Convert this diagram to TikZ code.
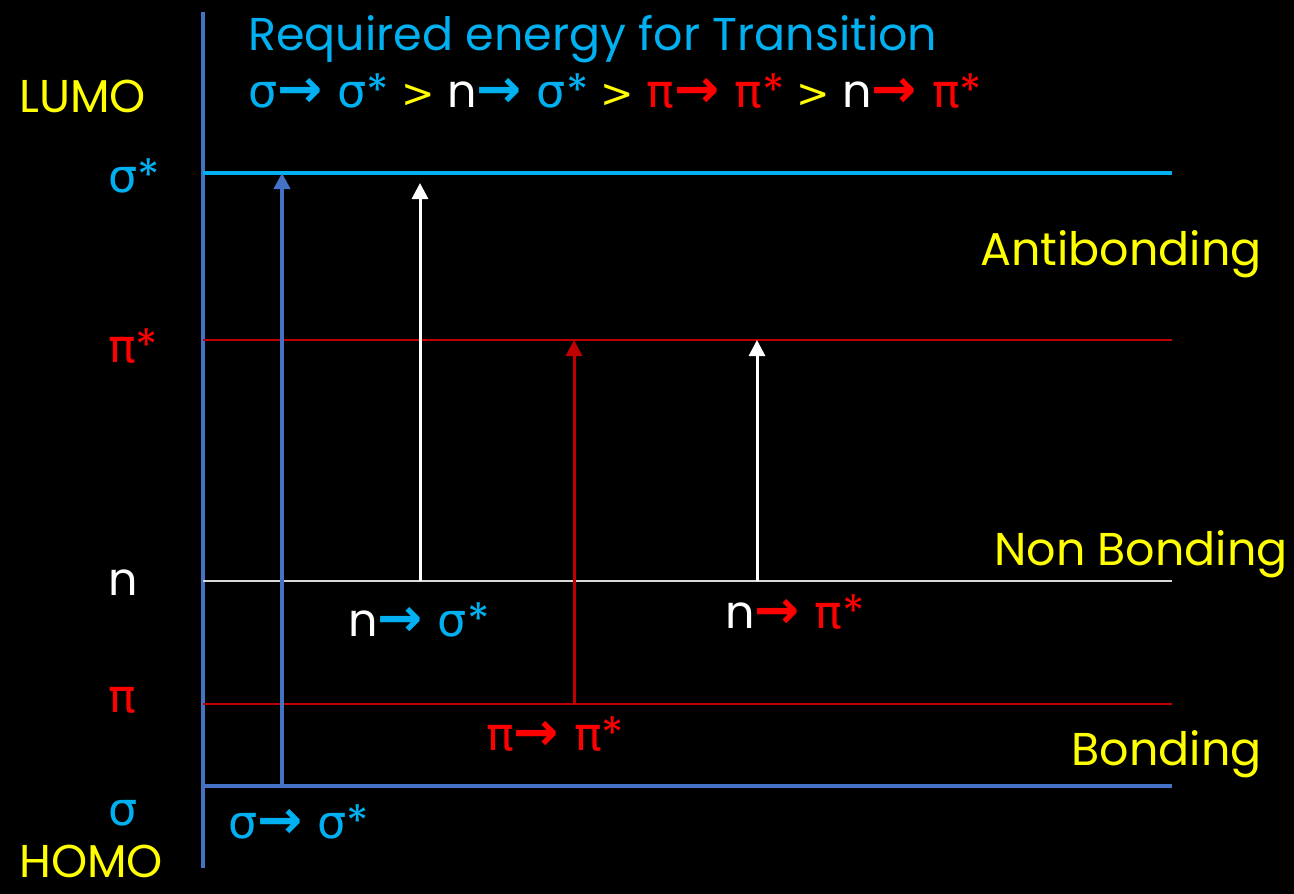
\documentclass[tikz,border=0pt]{standalone}
\usepackage{fontspec}
\setmainfont{Poppins}
\newfontfamily\grk{DejaVu Sans}
\usetikzlibrary{arrows.meta}
\definecolor{lb}{HTML}{00B0F0}
\definecolor{ax}{HTML}{4472C4}
\definecolor{dr}{HTML}{C00000}
\definecolor{rd}{HTML}{FF0000}
\definecolor{yl}{HTML}{FFFF00}
\newcommand\mysig{{\grk σ}}
\newcommand\mypi{{\grk π}}
\newcommand\myarr{{\grk\bfseries\fontsize{54}{54}\selectfont →}\hspace{15pt}}
\newcommand\mygt{{\grk\fontsize{40}{40}\selectfont >}}
\begin{document}
\begin{tikzpicture}[x=1pt,y=-1pt,
  txt/.style={inner sep=0pt,font=\fontsize{46}{50}\selectfont},
  lvl/.style={line width=#1},
  up/.style={line width=#1,-{Triangle[length=16pt,width=16pt]}}]
\fill[black] (0,0) rectangle (1294,894);
\useasboundingbox (0,0) rectangle (1294,894);
% axis
\coordinate (axT) at (203,12);
\coordinate (axB) at (203,868);
\draw[ax,line width=3.5pt] (axT) -- (axB);
% levels
\coordinate (ssL) at (203,173); \coordinate (ssR) at (1172,173);
\coordinate (psL) at (203,340); \coordinate (psR) at (1172,340);
\coordinate (nL) at (203,581);  \coordinate (nR) at (1172,581);
\coordinate (pL) at (203,704);  \coordinate (pR) at (1172,704);
\coordinate (sL) at (203,786);  \coordinate (sR) at (1172,786);
\draw[lb,lvl=4pt] (ssL) -- (ssR);
\draw[dr,lvl=2pt] (psL) -- (psR);
\draw[white!85!black,lvl=2pt] (nL) -- (nR);
\draw[dr,lvl=2pt] (pL) -- (pR);
\draw[ax,lvl=3.5pt] (sL) -- (sR);
% transitions
\coordinate (a1s) at (282,786); \coordinate (a1e) at (282,173);
\coordinate (a2s) at (420,581); \coordinate (a2e) at (420,183);
\coordinate (a3s) at (574,704); \coordinate (a3e) at (574,340);
\coordinate (a4s) at (757,581); \coordinate (a4e) at (757,340);
\draw[ax,up=4pt] (a1s) -- (a1e);
\draw[white,up=3pt] (a2s) -- (a2e);
\draw[dr,up=3pt] (a3s) -- (a3e);
\draw[white,up=3pt] (a4s) -- (a4e);
% title
\node[txt,anchor=base west,text=lb] (title) at (248,50) {Required energy for Transition};
\node[txt,anchor=base west] (order) at (248,107) {\textcolor{lb}{\mysig\myarr\mysig*} \textcolor{yl}{\mygt} \textcolor{white}{n}\textcolor{lb}{\myarr\mysig*} \textcolor{yl}{\mygt} \textcolor{rd}{\mypi\myarr\mypi*} \textcolor{yl}{\mygt} \textcolor{white}{n}\textcolor{rd}{\myarr\mypi*}};
% left labels
\node[txt,anchor=base west,text=yl] (lumo) at (19,112) {LUMO};
\node[txt,anchor=base west,text=lb] (lss) at (108,192) {\mysig*};
\node[txt,anchor=base west,text=rd] (lps) at (108,362) {\mypi*};
\node[txt,anchor=base west,text=white] (ln) at (108,595) {n};
\node[txt,anchor=base west,text=rd] (lp) at (108,712) {\mypi};
\node[txt,anchor=base west,text=lb] (ls) at (108,825) {\mysig};
\node[txt,anchor=base west,text=yl] (homo) at (19,877) {HOMO};
% right labels
\node[txt,anchor=base east,text=yl] (anti) at (1262,265) {Antibonding};
\node[txt,anchor=base east,text=yl] (nonb) at (1288,565) {Non Bonding};
\node[txt,anchor=base east,text=yl] (bond) at (1262,765) {Bonding};
% transition labels
\node[txt,anchor=base west] (t2) at (348,636) {\textcolor{white}{n}\textcolor{lb}{\myarr\mysig*}};
\node[txt,anchor=base west] (t4) at (725,628) {\textcolor{white}{n}\textcolor{rd}{\myarr\mypi*}};
\node[txt,anchor=base west] (t3) at (486,750) {\textcolor{rd}{\mypi\myarr\mypi*}};
\node[txt,anchor=base west] (t1) at (228,838) {\textcolor{lb}{\mysig\myarr\mysig*}};
\end{tikzpicture}
\end{document}
